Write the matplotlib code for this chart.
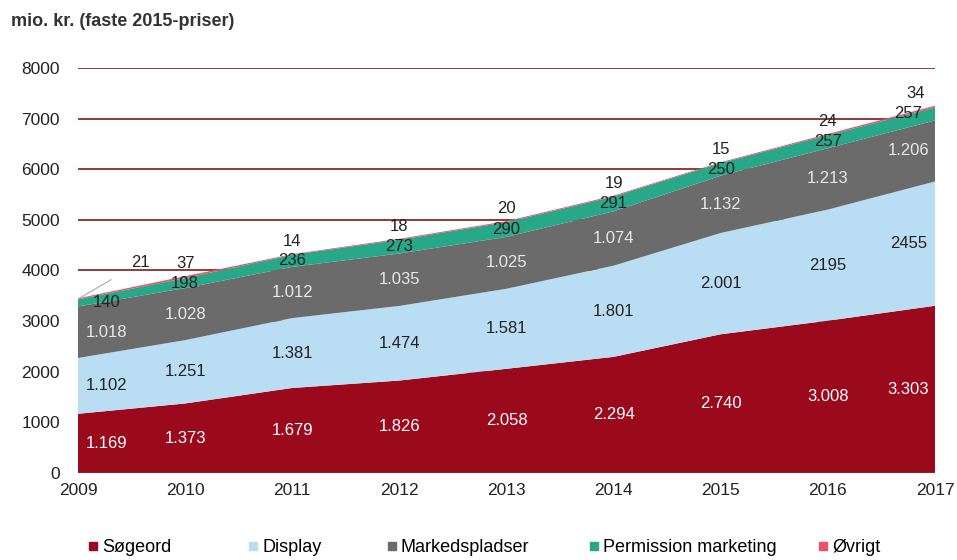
import numpy as np
import matplotlib.pyplot as plt
from matplotlib.lines import Line2D

plt.rcParams['font.family'] = ['Liberation Sans', 'DejaVu Sans']

# data (mio. kr., faste 2015-priser)
years = [2009, 2010, 2011, 2012, 2013, 2014, 2015, 2016, 2017]
soegeord = [1169, 1373, 1679, 1826, 2058, 2294, 2740, 3008, 3303]
display = [1102, 1251, 1381, 1474, 1581, 1801, 2001, 2195, 2455]
markedspladser = [1018, 1028, 1012, 1035, 1025, 1074, 1132, 1213, 1206]
permission = [140, 198, 236, 273, 290, 291, 250, 257, 257]
oevrigt = [21, 37, 14, 18, 20, 19, 15, 24, 34]

series_names = ['Søgeord', 'Display', 'Markedspladser', 'Permission marketing', 'Øvrigt']

lbl_soeg = ['1.169', '1.373', '1.679', '1.826', '2.058', '2.294', '2.740', '3.008', '3.303']
lbl_disp = ['1.102', '1.251', '1.381', '1.474', '1.581', '1.801', '2.001', '2195', '2455']
lbl_mark = ['1.018', '1.028', '1.012', '1.035', '1.025', '1.074', '1.132', '1.213', '1.206']
lbl_perm = [str(v) for v in permission]
lbl_oevr = [str(v) for v in oevrigt]

colors = ['#9a0a1c', '#b9ddf3', '#6b6b6b', '#26a889', '#e8536a']
grid_col = '#8b2a2a'

fig = plt.figure(figsize=(9.57, 5.6), dpi=100)
ax = fig.add_axes([0.0815, 0.1554, 0.8955, 0.7232])

x = np.array(years, dtype=float)
ax.stackplot(x, soegeord, display, markedspladser, permission, oevrigt,
             colors=colors, zorder=3, linewidth=0)

for yv in range(1000, 9000, 1000):
    ax.axhline(yv, color=grid_col, lw=1.3, zorder=1)
ax.axhline(0, color=grid_col, lw=1.3, zorder=4)

ax.set_xlim(2009, 2017)
ax.set_ylim(0, 8000)
ax.set_yticks(range(0, 9000, 1000))
ax.set_xticks(years)
ax.tick_params(length=0, labelsize=12.5, colors='#222222')
ax.tick_params(axis='y', pad=13)
ax.tick_params(axis='x', pad=7)
for s in ax.spines.values():
    s.set_visible(False)

# label x positions: edge labels shifted inward
lx = x.copy()
lx[0] += 0.27
lx[-1] -= 0.25

b1 = np.array(soegeord)
b2 = b1 + np.array(display)
b3 = b2 + np.array(markedspladser)
b4 = b3 + np.array(permission)
b5 = b4 + np.array(oevrigt)

fs = 12
for i in range(len(years)):
    ax.text(lx[i], b1[i] / 2, lbl_soeg[i], ha='center', va='center',
            color='white', fontsize=fs, zorder=5)
    ax.text(lx[i], (b1[i] + b2[i]) / 2, lbl_disp[i], ha='center', va='center',
            color='#222222', fontsize=fs, zorder=5)
    ax.text(lx[i], (b2[i] + b3[i]) / 2, lbl_mark[i], ha='center', va='center',
            color='#e8e8e8', fontsize=fs, zorder=5)
    ax.text(lx[i], (b3[i] + b4[i]) / 2, lbl_perm[i], ha='center', va='center',
            color='#222222', fontsize=fs, zorder=5)
    if i == 0:
        ax.annotate(lbl_oevr[i], xy=(x[0] + 0.01, b5[0]), xytext=(2009.58, b5[0] + 700),
                    ha='center', va='center', fontsize=fs, color='#222222', zorder=5,
                    arrowprops=dict(arrowstyle='-', color='#aaaaaa', lw=0.8,
                                    shrinkA=14, shrinkB=0))
    else:
        xi = x[i] if i < len(years) - 1 else x[i] - 0.18
        ax.annotate(lbl_oevr[i], xy=(xi, b5[i]), xytext=(0, 9),
                    textcoords='offset points', ha='center', va='center',
                    fontsize=fs, color='#222222', zorder=5)

fig.text(0.012, 0.962, 'mio. kr. (faste 2015-priser)', fontsize=13,
         fontweight='bold', color='#333333', ha='left', va='center')

# legend items placed individually to follow the original spacing
leg_x = [0.088, 0.255, 0.400, 0.611, 0.851]
for name, c, lxp in zip(series_names, colors, leg_x):
    h = Line2D([], [], marker='s', ls='', color=c, markersize=6)
    fig.legend([h], [name], loc='center left', bbox_to_anchor=(lxp, 0.022),
               frameon=False, fontsize=13, handletextpad=0.0, handlelength=1.0,
               borderpad=0, borderaxespad=0)

fig.savefig('out.png', dpi=100)
